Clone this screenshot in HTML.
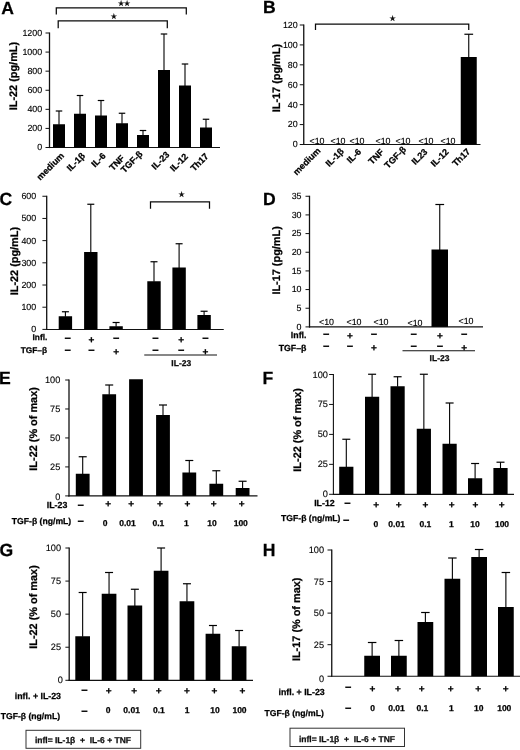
<!DOCTYPE html>
<html lang="en"><head><meta charset="utf-8"><title>Figure</title>
<style>
html,body{margin:0;padding:0;background:#fff;}
body{width:520px;height:750px;overflow:hidden;}
svg{display:block;font-family:"Liberation Sans",sans-serif;text-rendering:geometricPrecision;filter:blur(0.3px);}
</style></head><body>
<svg width="520" height="750" viewBox="0 0 520 750">
<rect width="520" height="750" fill="#fff"/>
<text x="1.20" y="14.00" font-size="17.6" text-anchor="start" font-weight="bold" stroke="#000" stroke-width="0.25" fill="#000">A</text>
<text x="17.30" y="76.10" font-size="10.9" text-anchor="middle" font-weight="bold" stroke="#000" stroke-width="0.25" fill="#000" transform="rotate(-90 17.30 76.10)">IL-22 (pg/mL)</text>
<line x1="49.50" y1="32.50" x2="49.50" y2="148.10" stroke="#111" stroke-width="1.3"/>
<line x1="45.50" y1="147.50" x2="49.50" y2="147.50" stroke="#111" stroke-width="1.0"/>
<text x="42.20" y="150.40" font-size="8.9" text-anchor="end" stroke="#000" stroke-width="0.12" fill="#000">0</text>
<line x1="45.50" y1="128.42" x2="49.50" y2="128.42" stroke="#111" stroke-width="1.0"/>
<text x="42.20" y="131.32" font-size="8.9" text-anchor="end" stroke="#000" stroke-width="0.12" fill="#000">200</text>
<line x1="45.50" y1="109.33" x2="49.50" y2="109.33" stroke="#111" stroke-width="1.0"/>
<text x="42.20" y="112.24" font-size="8.9" text-anchor="end" stroke="#000" stroke-width="0.12" fill="#000">400</text>
<line x1="45.50" y1="90.25" x2="49.50" y2="90.25" stroke="#111" stroke-width="1.0"/>
<text x="42.20" y="93.15" font-size="8.9" text-anchor="end" stroke="#000" stroke-width="0.12" fill="#000">600</text>
<line x1="45.50" y1="71.17" x2="49.50" y2="71.17" stroke="#111" stroke-width="1.0"/>
<text x="42.20" y="74.07" font-size="8.9" text-anchor="end" stroke="#000" stroke-width="0.12" fill="#000">800</text>
<line x1="45.50" y1="52.08" x2="49.50" y2="52.08" stroke="#111" stroke-width="1.0"/>
<text x="42.20" y="54.99" font-size="8.9" text-anchor="end" stroke="#000" stroke-width="0.12" fill="#000">1000</text>
<line x1="45.50" y1="33.00" x2="49.50" y2="33.00" stroke="#111" stroke-width="1.0"/>
<text x="42.20" y="35.90" font-size="8.9" text-anchor="end" stroke="#000" stroke-width="0.12" fill="#000">1200</text>
<line x1="49.00" y1="147.50" x2="220.00" y2="147.50" stroke="#111" stroke-width="1.2"/>
<rect x="53.00" y="124.25" width="12.00" height="23.25" fill="#000"/>
<line x1="59.00" y1="111.00" x2="59.00" y2="124.75" stroke="#000" stroke-width="1.1"/>
<line x1="55.75" y1="111.00" x2="62.25" y2="111.00" stroke="#000" stroke-width="1.2"/>
<text x="52.50" y="168.49" font-size="9" text-anchor="middle" font-weight="bold" stroke="#000" stroke-width="0.25" fill="#000" transform="rotate(-45 52.50 168.49)">medium</text>
<rect x="74.00" y="113.75" width="12.00" height="33.75" fill="#000"/>
<line x1="80.00" y1="95.50" x2="80.00" y2="114.25" stroke="#000" stroke-width="1.1"/>
<line x1="76.75" y1="95.50" x2="83.25" y2="95.50" stroke="#000" stroke-width="1.2"/>
<text x="78.00" y="164.09" font-size="9" text-anchor="middle" font-weight="bold" stroke="#000" stroke-width="0.25" fill="#000" transform="rotate(-45 78.00 164.09)">IL-1β</text>
<rect x="95.00" y="115.50" width="12.00" height="32.00" fill="#000"/>
<line x1="101.00" y1="100.50" x2="101.00" y2="116.00" stroke="#000" stroke-width="1.1"/>
<line x1="97.75" y1="100.50" x2="104.25" y2="100.50" stroke="#000" stroke-width="1.2"/>
<text x="100.59" y="162.19" font-size="9" text-anchor="middle" font-weight="bold" stroke="#000" stroke-width="0.25" fill="#000" transform="rotate(-45 100.59 162.19)">IL-6</text>
<rect x="116.00" y="123.25" width="12.00" height="24.25" fill="#000"/>
<line x1="122.00" y1="113.25" x2="122.00" y2="123.75" stroke="#000" stroke-width="1.1"/>
<line x1="118.75" y1="113.25" x2="125.25" y2="113.25" stroke="#000" stroke-width="1.2"/>
<text x="119.09" y="164.99" font-size="9" text-anchor="middle" font-weight="bold" stroke="#000" stroke-width="0.25" fill="#000" transform="rotate(-45 119.09 164.99)">TNF</text>
<rect x="137.00" y="135.00" width="12.00" height="12.50" fill="#000"/>
<line x1="143.00" y1="130.50" x2="143.00" y2="135.50" stroke="#000" stroke-width="1.1"/>
<line x1="139.75" y1="130.50" x2="146.25" y2="130.50" stroke="#000" stroke-width="1.2"/>
<text x="133.79" y="164.09" font-size="9" text-anchor="middle" font-weight="bold" stroke="#000" stroke-width="0.25" fill="#000" transform="rotate(-45 133.79 164.09)">TGF-β</text>
<rect x="158.00" y="70.00" width="12.00" height="77.50" fill="#000"/>
<line x1="164.00" y1="34.00" x2="164.00" y2="70.50" stroke="#000" stroke-width="1.1"/>
<line x1="160.75" y1="34.00" x2="167.25" y2="34.00" stroke="#000" stroke-width="1.2"/>
<text x="162.69" y="162.69" font-size="9" text-anchor="middle" font-weight="bold" stroke="#000" stroke-width="0.25" fill="#000" transform="rotate(-45 162.69 162.69)">IL-23</text>
<rect x="179.00" y="85.50" width="12.00" height="62.00" fill="#000"/>
<line x1="185.00" y1="64.00" x2="185.00" y2="86.00" stroke="#000" stroke-width="1.1"/>
<line x1="181.75" y1="64.00" x2="188.25" y2="64.00" stroke="#000" stroke-width="1.2"/>
<text x="181.09" y="164.59" font-size="9" text-anchor="middle" font-weight="bold" stroke="#000" stroke-width="0.25" fill="#000" transform="rotate(-45 181.09 164.59)">IL-12</text>
<rect x="200.00" y="127.50" width="12.00" height="20.00" fill="#000"/>
<line x1="206.00" y1="119.25" x2="206.00" y2="128.00" stroke="#000" stroke-width="1.1"/>
<line x1="202.75" y1="119.25" x2="209.25" y2="119.25" stroke="#000" stroke-width="1.2"/>
<text x="201.59" y="164.39" font-size="9" text-anchor="middle" font-weight="bold" stroke="#000" stroke-width="0.25" fill="#000" transform="rotate(-45 201.59 164.39)">Th17</text>
<polyline points="56.30,14.40 56.30,7.90 186.30,7.90 186.30,14.40" fill="none" stroke="#0a0a0a" stroke-width="1.25"/>
<polyline points="58.20,28.20 58.20,20.90 167.30,20.90 167.30,28.20" fill="none" stroke="#0a0a0a" stroke-width="1.25"/>
<text x="121.00" y="6.38" font-size="8" text-anchor="middle" stroke="#000" stroke-width="0.12" font-family="'DejaVu Sans', sans-serif" fill="#111">★</text>
<text x="127.00" y="6.38" font-size="8" text-anchor="middle" stroke="#000" stroke-width="0.12" font-family="'DejaVu Sans', sans-serif" fill="#111">★</text>
<text x="113.75" y="18.88" font-size="8" text-anchor="middle" stroke="#000" stroke-width="0.12" font-family="'DejaVu Sans', sans-serif" fill="#111">★</text>
<text x="263.00" y="12.70" font-size="17.6" text-anchor="start" font-weight="bold" stroke="#000" stroke-width="0.25" fill="#000">B</text>
<text x="280.00" y="78.10" font-size="10.9" text-anchor="middle" font-weight="bold" stroke="#000" stroke-width="0.25" fill="#000" transform="rotate(-90 280.00 78.10)">IL-17 (pg/mL)</text>
<line x1="303.75" y1="24.50" x2="303.75" y2="145.10" stroke="#111" stroke-width="1.3"/>
<line x1="299.75" y1="144.50" x2="303.75" y2="144.50" stroke="#111" stroke-width="1.0"/>
<text x="297.70" y="147.40" font-size="8.9" text-anchor="end" stroke="#000" stroke-width="0.12" fill="#000">0</text>
<line x1="299.75" y1="124.58" x2="303.75" y2="124.58" stroke="#111" stroke-width="1.0"/>
<text x="297.70" y="127.49" font-size="8.9" text-anchor="end" stroke="#000" stroke-width="0.12" fill="#000">20</text>
<line x1="299.75" y1="104.67" x2="303.75" y2="104.67" stroke="#111" stroke-width="1.0"/>
<text x="297.70" y="107.57" font-size="8.9" text-anchor="end" stroke="#000" stroke-width="0.12" fill="#000">40</text>
<line x1="299.75" y1="84.75" x2="303.75" y2="84.75" stroke="#111" stroke-width="1.0"/>
<text x="297.70" y="87.65" font-size="8.9" text-anchor="end" stroke="#000" stroke-width="0.12" fill="#000">60</text>
<line x1="299.75" y1="64.83" x2="303.75" y2="64.83" stroke="#111" stroke-width="1.0"/>
<text x="297.70" y="67.74" font-size="8.9" text-anchor="end" stroke="#000" stroke-width="0.12" fill="#000">80</text>
<line x1="299.75" y1="44.92" x2="303.75" y2="44.92" stroke="#111" stroke-width="1.0"/>
<text x="297.70" y="47.82" font-size="8.9" text-anchor="end" stroke="#000" stroke-width="0.12" fill="#000">100</text>
<line x1="299.75" y1="25.00" x2="303.75" y2="25.00" stroke="#111" stroke-width="1.0"/>
<text x="297.70" y="27.90" font-size="8.9" text-anchor="end" stroke="#000" stroke-width="0.12" fill="#000">120</text>
<line x1="303.25" y1="144.50" x2="480.50" y2="144.50" stroke="#111" stroke-width="1.2"/>
<rect x="460.75" y="57.00" width="16.00" height="87.50" fill="#000"/>
<line x1="468.75" y1="34.25" x2="468.75" y2="57.50" stroke="#000" stroke-width="1.1"/>
<line x1="464.38" y1="34.25" x2="473.12" y2="34.25" stroke="#000" stroke-width="1.2"/>
<text x="317.00" y="143.70" font-size="8.9" text-anchor="middle" stroke="#000" stroke-width="0.12" fill="#000">&lt;10</text>
<text x="338.00" y="143.70" font-size="8.9" text-anchor="middle" stroke="#000" stroke-width="0.12" fill="#000">&lt;10</text>
<text x="357.00" y="143.70" font-size="8.9" text-anchor="middle" stroke="#000" stroke-width="0.12" fill="#000">&lt;10</text>
<text x="383.00" y="143.70" font-size="8.9" text-anchor="middle" stroke="#000" stroke-width="0.12" fill="#000">&lt;10</text>
<text x="403.00" y="143.70" font-size="8.9" text-anchor="middle" stroke="#000" stroke-width="0.12" fill="#000">&lt;10</text>
<text x="426.00" y="143.70" font-size="8.9" text-anchor="middle" stroke="#000" stroke-width="0.12" fill="#000">&lt;10</text>
<text x="448.00" y="143.70" font-size="8.9" text-anchor="middle" stroke="#000" stroke-width="0.12" fill="#000">&lt;10</text>
<text x="308.90" y="163.49" font-size="9" text-anchor="middle" font-weight="bold" stroke="#000" stroke-width="0.25" fill="#000" transform="rotate(-45 308.90 163.49)">medium</text>
<text x="336.80" y="159.59" font-size="9" text-anchor="middle" font-weight="bold" stroke="#000" stroke-width="0.25" fill="#000" transform="rotate(-45 336.80 159.59)">IL-1β</text>
<text x="356.19" y="157.99" font-size="9" text-anchor="middle" font-weight="bold" stroke="#000" stroke-width="0.25" fill="#000" transform="rotate(-45 356.19 157.99)">IL-6</text>
<text x="378.19" y="158.89" font-size="9" text-anchor="middle" font-weight="bold" stroke="#000" stroke-width="0.25" fill="#000" transform="rotate(-45 378.19 158.89)">TNF</text>
<text x="397.40" y="159.59" font-size="9" text-anchor="middle" font-weight="bold" stroke="#000" stroke-width="0.25" fill="#000" transform="rotate(-45 397.40 159.59)">TGF-β</text>
<text x="421.69" y="158.89" font-size="9" text-anchor="middle" font-weight="bold" stroke="#000" stroke-width="0.25" fill="#000" transform="rotate(-45 421.69 158.89)">IL23</text>
<text x="441.90" y="159.89" font-size="9" text-anchor="middle" font-weight="bold" stroke="#000" stroke-width="0.25" fill="#000" transform="rotate(-45 441.90 159.89)">IL-12</text>
<text x="463.40" y="159.59" font-size="9" text-anchor="middle" font-weight="bold" stroke="#000" stroke-width="0.25" fill="#000" transform="rotate(-45 463.40 159.59)">Th17</text>
<polyline points="315.50,30.00 315.50,24.00 468.75,24.00 468.75,30.00" fill="none" stroke="#0a0a0a" stroke-width="1.25"/>
<text x="392.50" y="21.38" font-size="8" text-anchor="middle" stroke="#000" stroke-width="0.12" font-family="'DejaVu Sans', sans-serif" fill="#111">★</text>
<text x="-0.50" y="204.50" font-size="17.6" text-anchor="start" font-weight="bold" stroke="#000" stroke-width="0.25" fill="#000">C</text>
<text x="17.70" y="261.10" font-size="10.9" text-anchor="middle" font-weight="bold" stroke="#000" stroke-width="0.25" fill="#000" transform="rotate(-90 17.70 261.10)">IL-22 (pg/mL)</text>
<line x1="46.70" y1="195.75" x2="46.70" y2="330.00" stroke="#111" stroke-width="1.3"/>
<line x1="42.40" y1="329.40" x2="46.70" y2="329.40" stroke="#111" stroke-width="1.0"/>
<text x="36.20" y="332.30" font-size="8.9" text-anchor="end" stroke="#000" stroke-width="0.12" fill="#000">0</text>
<line x1="42.40" y1="307.21" x2="46.70" y2="307.21" stroke="#111" stroke-width="1.0"/>
<text x="36.20" y="310.11" font-size="8.9" text-anchor="end" stroke="#000" stroke-width="0.12" fill="#000">100</text>
<line x1="42.40" y1="285.02" x2="46.70" y2="285.02" stroke="#111" stroke-width="1.0"/>
<text x="36.20" y="287.92" font-size="8.9" text-anchor="end" stroke="#000" stroke-width="0.12" fill="#000">200</text>
<line x1="42.40" y1="262.82" x2="46.70" y2="262.82" stroke="#111" stroke-width="1.0"/>
<text x="36.20" y="265.73" font-size="8.9" text-anchor="end" stroke="#000" stroke-width="0.12" fill="#000">300</text>
<line x1="42.40" y1="240.63" x2="46.70" y2="240.63" stroke="#111" stroke-width="1.0"/>
<text x="36.20" y="243.54" font-size="8.9" text-anchor="end" stroke="#000" stroke-width="0.12" fill="#000">400</text>
<line x1="42.40" y1="218.44" x2="46.70" y2="218.44" stroke="#111" stroke-width="1.0"/>
<text x="36.20" y="221.35" font-size="8.9" text-anchor="end" stroke="#000" stroke-width="0.12" fill="#000">500</text>
<line x1="42.40" y1="196.25" x2="46.70" y2="196.25" stroke="#111" stroke-width="1.0"/>
<text x="36.20" y="199.15" font-size="8.9" text-anchor="end" stroke="#000" stroke-width="0.12" fill="#000">600</text>
<line x1="46.50" y1="329.50" x2="223.75" y2="329.50" stroke="#111" stroke-width="1.2"/>
<rect x="58.70" y="316.25" width="13.40" height="13.15" fill="#000"/>
<line x1="65.40" y1="311.75" x2="65.40" y2="316.75" stroke="#000" stroke-width="1.1"/>
<line x1="61.90" y1="311.75" x2="68.90" y2="311.75" stroke="#000" stroke-width="1.2"/>
<rect x="84.10" y="252.00" width="13.40" height="77.40" fill="#000"/>
<line x1="90.80" y1="204.25" x2="90.80" y2="252.50" stroke="#000" stroke-width="1.1"/>
<line x1="87.30" y1="204.25" x2="94.30" y2="204.25" stroke="#000" stroke-width="1.2"/>
<rect x="109.40" y="326.25" width="13.40" height="3.15" fill="#000"/>
<line x1="116.10" y1="322.50" x2="116.10" y2="326.75" stroke="#000" stroke-width="1.1"/>
<line x1="112.60" y1="322.50" x2="119.60" y2="322.50" stroke="#000" stroke-width="1.2"/>
<rect x="147.30" y="281.25" width="13.40" height="48.15" fill="#000"/>
<line x1="154.00" y1="261.75" x2="154.00" y2="281.75" stroke="#000" stroke-width="1.1"/>
<line x1="150.50" y1="261.75" x2="157.50" y2="261.75" stroke="#000" stroke-width="1.2"/>
<rect x="172.40" y="267.50" width="13.40" height="61.90" fill="#000"/>
<line x1="179.10" y1="243.75" x2="179.10" y2="268.00" stroke="#000" stroke-width="1.1"/>
<line x1="175.60" y1="243.75" x2="182.60" y2="243.75" stroke="#000" stroke-width="1.2"/>
<rect x="197.40" y="315.00" width="13.40" height="14.40" fill="#000"/>
<line x1="204.10" y1="311.25" x2="204.10" y2="315.50" stroke="#000" stroke-width="1.1"/>
<line x1="200.60" y1="311.25" x2="207.60" y2="311.25" stroke="#000" stroke-width="1.2"/>
<text x="47.30" y="340.00" font-size="8.3" text-anchor="end" font-weight="bold" stroke="#000" stroke-width="0.25" fill="#000">Infl.</text>
<text x="47.00" y="353.00" font-size="8.3" text-anchor="end" font-weight="bold" stroke="#000" stroke-width="0.25" fill="#000">TGF–β</text>
<text x="67.70" y="342.00" font-size="11" text-anchor="middle" font-weight="bold" stroke="#000" stroke-width="0.25" fill="#000">−</text>
<text x="67.70" y="354.00" font-size="11" text-anchor="middle" font-weight="bold" stroke="#000" stroke-width="0.25" fill="#000">−</text>
<text x="91.50" y="343.00" font-size="10" text-anchor="middle" font-weight="bold" stroke="#000" stroke-width="0.25" fill="#000">+</text>
<text x="91.50" y="354.00" font-size="11" text-anchor="middle" font-weight="bold" stroke="#000" stroke-width="0.25" fill="#000">−</text>
<text x="116.20" y="342.00" font-size="11" text-anchor="middle" font-weight="bold" stroke="#000" stroke-width="0.25" fill="#000">−</text>
<text x="116.20" y="355.00" font-size="10" text-anchor="middle" font-weight="bold" stroke="#000" stroke-width="0.25" fill="#000">+</text>
<text x="155.50" y="342.00" font-size="11" text-anchor="middle" font-weight="bold" stroke="#000" stroke-width="0.25" fill="#000">−</text>
<text x="155.50" y="354.00" font-size="11" text-anchor="middle" font-weight="bold" stroke="#000" stroke-width="0.25" fill="#000">−</text>
<text x="181.25" y="343.00" font-size="10" text-anchor="middle" font-weight="bold" stroke="#000" stroke-width="0.25" fill="#000">+</text>
<text x="181.25" y="354.00" font-size="11" text-anchor="middle" font-weight="bold" stroke="#000" stroke-width="0.25" fill="#000">−</text>
<text x="205.50" y="342.00" font-size="11" text-anchor="middle" font-weight="bold" stroke="#000" stroke-width="0.25" fill="#000">−</text>
<text x="205.50" y="355.00" font-size="10" text-anchor="middle" font-weight="bold" stroke="#000" stroke-width="0.25" fill="#000">+</text>
<line x1="144.25" y1="355.00" x2="217.00" y2="355.00" stroke="#111" stroke-width="1.2"/>
<text x="181.25" y="365.50" font-size="8.5" text-anchor="middle" font-weight="bold" stroke="#000" stroke-width="0.25" fill="#111">IL-23</text>
<polyline points="150.50,208.75 150.50,201.75 209.50,201.75 209.50,208.75" fill="none" stroke="#0a0a0a" stroke-width="1.25"/>
<text x="181.50" y="197.38" font-size="8" text-anchor="middle" stroke="#000" stroke-width="0.12" font-family="'DejaVu Sans', sans-serif" fill="#111">★</text>
<text x="262.90" y="204.50" font-size="17.6" text-anchor="start" font-weight="bold" stroke="#000" stroke-width="0.25" fill="#000">D</text>
<text x="280.00" y="260.40" font-size="10.9" text-anchor="middle" font-weight="bold" stroke="#000" stroke-width="0.25" fill="#000" transform="rotate(-90 280.00 260.40)">IL-17 (pg/mL)</text>
<line x1="309.50" y1="195.75" x2="309.50" y2="327.50" stroke="#111" stroke-width="1.3"/>
<line x1="305.50" y1="326.90" x2="309.50" y2="326.90" stroke="#111" stroke-width="1.0"/>
<text x="301.50" y="329.80" font-size="8.9" text-anchor="end" stroke="#000" stroke-width="0.12" fill="#000">0</text>
<line x1="305.50" y1="308.24" x2="309.50" y2="308.24" stroke="#111" stroke-width="1.0"/>
<text x="301.50" y="311.14" font-size="8.9" text-anchor="end" stroke="#000" stroke-width="0.12" fill="#000">5</text>
<line x1="305.50" y1="289.57" x2="309.50" y2="289.57" stroke="#111" stroke-width="1.0"/>
<text x="301.50" y="292.48" font-size="8.9" text-anchor="end" stroke="#000" stroke-width="0.12" fill="#000">10</text>
<line x1="305.50" y1="270.91" x2="309.50" y2="270.91" stroke="#111" stroke-width="1.0"/>
<text x="301.50" y="273.81" font-size="8.9" text-anchor="end" stroke="#000" stroke-width="0.12" fill="#000">15</text>
<line x1="305.50" y1="252.24" x2="309.50" y2="252.24" stroke="#111" stroke-width="1.0"/>
<text x="301.50" y="255.15" font-size="8.9" text-anchor="end" stroke="#000" stroke-width="0.12" fill="#000">20</text>
<line x1="305.50" y1="233.58" x2="309.50" y2="233.58" stroke="#111" stroke-width="1.0"/>
<text x="301.50" y="236.48" font-size="8.9" text-anchor="end" stroke="#000" stroke-width="0.12" fill="#000">25</text>
<line x1="305.50" y1="214.91" x2="309.50" y2="214.91" stroke="#111" stroke-width="1.0"/>
<text x="301.50" y="217.82" font-size="8.9" text-anchor="end" stroke="#000" stroke-width="0.12" fill="#000">30</text>
<line x1="305.50" y1="196.25" x2="309.50" y2="196.25" stroke="#111" stroke-width="1.0"/>
<text x="301.50" y="199.15" font-size="8.9" text-anchor="end" stroke="#000" stroke-width="0.12" fill="#000">35</text>
<line x1="309.00" y1="326.90" x2="483.00" y2="326.90" stroke="#111" stroke-width="1.2"/>
<rect x="431.50" y="249.50" width="16.50" height="77.40" fill="#000"/>
<line x1="439.75" y1="204.50" x2="439.75" y2="250.00" stroke="#000" stroke-width="1.1"/>
<line x1="435.38" y1="204.50" x2="444.12" y2="204.50" stroke="#000" stroke-width="1.2"/>
<text x="326.50" y="324.90" font-size="8.9" text-anchor="middle" stroke="#000" stroke-width="0.12" fill="#000">&lt;10</text>
<text x="354.00" y="324.90" font-size="8.9" text-anchor="middle" stroke="#000" stroke-width="0.12" fill="#000">&lt;10</text>
<text x="381.00" y="324.90" font-size="8.9" text-anchor="middle" stroke="#000" stroke-width="0.12" fill="#000">&lt;10</text>
<text x="415.00" y="325.60" font-size="8.9" text-anchor="middle" stroke="#000" stroke-width="0.12" fill="#000">&lt;10</text>
<text x="466.00" y="323.90" font-size="8.9" text-anchor="middle" stroke="#000" stroke-width="0.12" fill="#000">&lt;10</text>
<text x="306.50" y="338.00" font-size="8.8" text-anchor="end" font-weight="bold" stroke="#000" stroke-width="0.25" fill="#000">Infl.</text>
<text x="306.50" y="351.00" font-size="8.8" text-anchor="end" font-weight="bold" stroke="#000" stroke-width="0.25" fill="#000">TGF–β</text>
<text x="326.25" y="338.00" font-size="11" text-anchor="middle" font-weight="bold" stroke="#000" stroke-width="0.25" fill="#000">−</text>
<text x="326.25" y="350.00" font-size="11" text-anchor="middle" font-weight="bold" stroke="#000" stroke-width="0.25" fill="#000">−</text>
<text x="350.00" y="339.00" font-size="10" text-anchor="middle" font-weight="bold" stroke="#000" stroke-width="0.25" fill="#000">+</text>
<text x="350.00" y="350.00" font-size="11" text-anchor="middle" font-weight="bold" stroke="#000" stroke-width="0.25" fill="#000">−</text>
<text x="374.00" y="338.00" font-size="11" text-anchor="middle" font-weight="bold" stroke="#000" stroke-width="0.25" fill="#000">−</text>
<text x="374.00" y="351.00" font-size="10" text-anchor="middle" font-weight="bold" stroke="#000" stroke-width="0.25" fill="#000">+</text>
<text x="413.75" y="338.00" font-size="11" text-anchor="middle" font-weight="bold" stroke="#000" stroke-width="0.25" fill="#000">−</text>
<text x="413.75" y="350.00" font-size="11" text-anchor="middle" font-weight="bold" stroke="#000" stroke-width="0.25" fill="#000">−</text>
<text x="440.00" y="339.00" font-size="10" text-anchor="middle" font-weight="bold" stroke="#000" stroke-width="0.25" fill="#000">+</text>
<text x="440.00" y="350.00" font-size="11" text-anchor="middle" font-weight="bold" stroke="#000" stroke-width="0.25" fill="#000">−</text>
<text x="464.25" y="338.00" font-size="11" text-anchor="middle" font-weight="bold" stroke="#000" stroke-width="0.25" fill="#000">−</text>
<text x="464.25" y="351.00" font-size="10" text-anchor="middle" font-weight="bold" stroke="#000" stroke-width="0.25" fill="#000">+</text>
<line x1="402.50" y1="350.75" x2="475.00" y2="350.75" stroke="#111" stroke-width="1.2"/>
<text x="439.50" y="361.30" font-size="8.5" text-anchor="middle" font-weight="bold" stroke="#000" stroke-width="0.25" fill="#111">IL-23</text>
<text x="-1.00" y="383.80" font-size="17.6" text-anchor="start" font-weight="bold" stroke="#000" stroke-width="0.25" fill="#000">E</text>
<text x="37.10" y="428.90" font-size="10.9" text-anchor="middle" font-weight="bold" stroke="#000" stroke-width="0.25" fill="#000" transform="rotate(-90 37.10 428.90)">IL-22 (% of max)</text>
<line x1="69.00" y1="379.50" x2="69.00" y2="496.50" stroke="#111" stroke-width="1.3"/>
<line x1="65.20" y1="495.90" x2="69.00" y2="495.90" stroke="#111" stroke-width="1.0"/>
<text x="60.30" y="500.11" font-size="9.2" text-anchor="end" stroke="#000" stroke-width="0.12" fill="#000">0</text>
<line x1="65.20" y1="466.92" x2="69.00" y2="466.92" stroke="#111" stroke-width="1.0"/>
<text x="60.30" y="469.94" font-size="9.2" text-anchor="end" stroke="#000" stroke-width="0.12" fill="#000">25</text>
<line x1="65.20" y1="437.95" x2="69.00" y2="437.95" stroke="#111" stroke-width="1.0"/>
<text x="60.30" y="440.96" font-size="9.2" text-anchor="end" stroke="#000" stroke-width="0.12" fill="#000">50</text>
<line x1="65.20" y1="408.98" x2="69.00" y2="408.98" stroke="#111" stroke-width="1.0"/>
<text x="60.30" y="411.99" font-size="9.2" text-anchor="end" stroke="#000" stroke-width="0.12" fill="#000">75</text>
<line x1="65.20" y1="380.00" x2="69.00" y2="380.00" stroke="#111" stroke-width="1.0"/>
<text x="60.30" y="383.01" font-size="9.2" text-anchor="end" stroke="#000" stroke-width="0.12" fill="#000">100</text>
<line x1="68.40" y1="495.90" x2="257.50" y2="495.90" stroke="#111" stroke-width="1.2"/>
<rect x="75.80" y="473.75" width="13.80" height="22.15" fill="#000"/>
<line x1="82.70" y1="456.75" x2="82.70" y2="474.25" stroke="#000" stroke-width="1.1"/>
<line x1="78.70" y1="456.75" x2="86.70" y2="456.75" stroke="#000" stroke-width="1.2"/>
<rect x="102.30" y="394.25" width="13.80" height="101.65" fill="#000"/>
<line x1="109.20" y1="385.00" x2="109.20" y2="394.75" stroke="#000" stroke-width="1.1"/>
<line x1="105.20" y1="385.00" x2="113.20" y2="385.00" stroke="#000" stroke-width="1.2"/>
<rect x="129.10" y="379.25" width="13.80" height="116.65" fill="#000"/>
<rect x="156.10" y="415.00" width="13.80" height="80.90" fill="#000"/>
<line x1="163.00" y1="405.00" x2="163.00" y2="415.50" stroke="#000" stroke-width="1.1"/>
<line x1="159.00" y1="405.00" x2="167.00" y2="405.00" stroke="#000" stroke-width="1.2"/>
<rect x="182.40" y="472.50" width="13.80" height="23.40" fill="#000"/>
<line x1="189.30" y1="460.50" x2="189.30" y2="473.00" stroke="#000" stroke-width="1.1"/>
<line x1="185.30" y1="460.50" x2="193.30" y2="460.50" stroke="#000" stroke-width="1.2"/>
<rect x="209.40" y="483.75" width="13.80" height="12.15" fill="#000"/>
<line x1="216.30" y1="470.75" x2="216.30" y2="484.25" stroke="#000" stroke-width="1.1"/>
<line x1="212.30" y1="470.75" x2="220.30" y2="470.75" stroke="#000" stroke-width="1.2"/>
<rect x="235.70" y="488.00" width="13.80" height="7.90" fill="#000"/>
<line x1="242.60" y1="481.25" x2="242.60" y2="488.50" stroke="#000" stroke-width="1.1"/>
<line x1="238.60" y1="481.25" x2="246.60" y2="481.25" stroke="#000" stroke-width="1.2"/>
<text x="67.30" y="508.00" font-size="8.8" text-anchor="end" font-weight="bold" stroke="#000" stroke-width="0.25" fill="#000">IL-23</text>
<text x="71.25" y="524.00" font-size="8.65" text-anchor="end" font-weight="bold" stroke="#000" stroke-width="0.25" fill="#000">TGF-β (ng/mL)</text>
<text x="80.75" y="509.00" font-size="11" text-anchor="middle" font-weight="bold" stroke="#000" stroke-width="0.25" fill="#000">−</text>
<text x="108.25" y="507.00" font-size="10" text-anchor="middle" font-weight="bold" stroke="#000" stroke-width="0.25" fill="#000">+</text>
<text x="131.25" y="507.00" font-size="10" text-anchor="middle" font-weight="bold" stroke="#000" stroke-width="0.25" fill="#000">+</text>
<text x="160.00" y="507.00" font-size="10" text-anchor="middle" font-weight="bold" stroke="#000" stroke-width="0.25" fill="#000">+</text>
<text x="187.50" y="507.00" font-size="10" text-anchor="middle" font-weight="bold" stroke="#000" stroke-width="0.25" fill="#000">+</text>
<text x="213.75" y="507.00" font-size="10" text-anchor="middle" font-weight="bold" stroke="#000" stroke-width="0.25" fill="#000">+</text>
<text x="241.75" y="507.00" font-size="10" text-anchor="middle" font-weight="bold" stroke="#000" stroke-width="0.25" fill="#000">+</text>
<text x="80.75" y="525.00" font-size="11" text-anchor="middle" font-weight="bold" stroke="#000" stroke-width="0.25" fill="#000">−</text>
<text x="105.00" y="526.00" font-size="8.5" text-anchor="middle" font-weight="bold" stroke="#000" stroke-width="0.25" fill="#000">0</text>
<text x="127.50" y="526.00" font-size="8.5" text-anchor="middle" font-weight="bold" stroke="#000" stroke-width="0.25" fill="#000">0.01</text>
<text x="158.40" y="526.00" font-size="8.5" text-anchor="middle" font-weight="bold" stroke="#000" stroke-width="0.25" fill="#000">0.1</text>
<text x="186.25" y="526.00" font-size="8.5" text-anchor="middle" font-weight="bold" stroke="#000" stroke-width="0.25" fill="#000">1</text>
<text x="212.00" y="526.00" font-size="8.5" text-anchor="middle" font-weight="bold" stroke="#000" stroke-width="0.25" fill="#000">10</text>
<text x="240.75" y="526.00" font-size="8.5" text-anchor="middle" font-weight="bold" stroke="#000" stroke-width="0.25" fill="#000">100</text>
<text x="262.50" y="383.80" font-size="17.6" text-anchor="start" font-weight="bold" stroke="#000" stroke-width="0.25" fill="#000">F</text>
<text x="301.00" y="429.90" font-size="10.9" text-anchor="middle" font-weight="bold" stroke="#000" stroke-width="0.25" fill="#000" transform="rotate(-90 301.00 429.90)">IL-22 (% of max)</text>
<line x1="333.40" y1="374.00" x2="333.40" y2="494.90" stroke="#111" stroke-width="1.1"/>
<line x1="329.10" y1="494.30" x2="333.40" y2="494.30" stroke="#111" stroke-width="1.0"/>
<text x="327.90" y="497.31" font-size="9.2" text-anchor="end" stroke="#000" stroke-width="0.12" fill="#000">0</text>
<line x1="329.10" y1="464.35" x2="333.40" y2="464.35" stroke="#111" stroke-width="1.0"/>
<text x="327.90" y="467.36" font-size="9.2" text-anchor="end" stroke="#000" stroke-width="0.12" fill="#000">25</text>
<line x1="329.10" y1="434.40" x2="333.40" y2="434.40" stroke="#111" stroke-width="1.0"/>
<text x="327.90" y="437.41" font-size="9.2" text-anchor="end" stroke="#000" stroke-width="0.12" fill="#000">50</text>
<line x1="329.10" y1="404.45" x2="333.40" y2="404.45" stroke="#111" stroke-width="1.0"/>
<text x="327.90" y="407.46" font-size="9.2" text-anchor="end" stroke="#000" stroke-width="0.12" fill="#000">75</text>
<line x1="329.10" y1="374.50" x2="333.40" y2="374.50" stroke="#111" stroke-width="1.0"/>
<text x="327.90" y="377.51" font-size="9.2" text-anchor="end" stroke="#000" stroke-width="0.12" fill="#000">100</text>
<line x1="332.90" y1="494.30" x2="514.00" y2="494.30" stroke="#111" stroke-width="1.2"/>
<rect x="339.20" y="466.75" width="14.20" height="27.50" fill="#000"/>
<line x1="346.30" y1="439.25" x2="346.30" y2="467.25" stroke="#000" stroke-width="1.1"/>
<line x1="342.30" y1="439.25" x2="350.30" y2="439.25" stroke="#000" stroke-width="1.2"/>
<rect x="365.00" y="396.75" width="14.20" height="97.50" fill="#000"/>
<line x1="372.10" y1="374.25" x2="372.10" y2="397.25" stroke="#000" stroke-width="1.1"/>
<line x1="368.10" y1="374.25" x2="376.10" y2="374.25" stroke="#000" stroke-width="1.2"/>
<rect x="390.50" y="386.25" width="14.20" height="108.00" fill="#000"/>
<line x1="397.60" y1="376.75" x2="397.60" y2="386.75" stroke="#000" stroke-width="1.1"/>
<line x1="393.60" y1="376.75" x2="401.60" y2="376.75" stroke="#000" stroke-width="1.2"/>
<rect x="416.75" y="428.75" width="14.20" height="65.50" fill="#000"/>
<line x1="423.85" y1="374.25" x2="423.85" y2="429.25" stroke="#000" stroke-width="1.1"/>
<line x1="419.85" y1="374.25" x2="427.85" y2="374.25" stroke="#000" stroke-width="1.2"/>
<rect x="442.50" y="443.75" width="14.20" height="50.50" fill="#000"/>
<line x1="449.60" y1="403.00" x2="449.60" y2="444.25" stroke="#000" stroke-width="1.1"/>
<line x1="445.60" y1="403.00" x2="453.60" y2="403.00" stroke="#000" stroke-width="1.2"/>
<rect x="468.00" y="478.25" width="14.20" height="16.00" fill="#000"/>
<line x1="475.10" y1="463.50" x2="475.10" y2="478.75" stroke="#000" stroke-width="1.1"/>
<line x1="471.10" y1="463.50" x2="479.10" y2="463.50" stroke="#000" stroke-width="1.2"/>
<rect x="493.40" y="468.00" width="14.20" height="26.25" fill="#000"/>
<line x1="500.50" y1="462.20" x2="500.50" y2="468.50" stroke="#000" stroke-width="1.1"/>
<line x1="496.50" y1="462.20" x2="504.50" y2="462.20" stroke="#000" stroke-width="1.2"/>
<text x="334.70" y="506.00" font-size="8.8" text-anchor="end" font-weight="bold" stroke="#000" stroke-width="0.25" fill="#000">IL-12</text>
<text x="340.50" y="521.00" font-size="8.65" text-anchor="end" font-weight="bold" stroke="#000" stroke-width="0.25" fill="#000">TGF-β (ng/mL)</text>
<text x="347.50" y="507.00" font-size="11" text-anchor="middle" font-weight="bold" stroke="#000" stroke-width="0.25" fill="#000">−</text>
<text x="376.25" y="508.00" font-size="10" text-anchor="middle" font-weight="bold" stroke="#000" stroke-width="0.25" fill="#000">+</text>
<text x="398.75" y="508.00" font-size="10" text-anchor="middle" font-weight="bold" stroke="#000" stroke-width="0.25" fill="#000">+</text>
<text x="425.50" y="508.00" font-size="10" text-anchor="middle" font-weight="bold" stroke="#000" stroke-width="0.25" fill="#000">+</text>
<text x="451.75" y="508.00" font-size="10" text-anchor="middle" font-weight="bold" stroke="#000" stroke-width="0.25" fill="#000">+</text>
<text x="475.50" y="508.00" font-size="10" text-anchor="middle" font-weight="bold" stroke="#000" stroke-width="0.25" fill="#000">+</text>
<text x="501.75" y="508.00" font-size="10" text-anchor="middle" font-weight="bold" stroke="#000" stroke-width="0.25" fill="#000">+</text>
<text x="346.25" y="524.00" font-size="11" text-anchor="middle" font-weight="bold" stroke="#000" stroke-width="0.25" fill="#000">−</text>
<text x="375.75" y="527.00" font-size="8.5" text-anchor="middle" font-weight="bold" stroke="#000" stroke-width="0.25" fill="#000">0</text>
<text x="396.60" y="527.00" font-size="8.5" text-anchor="middle" font-weight="bold" stroke="#000" stroke-width="0.25" fill="#000">0.01</text>
<text x="425.40" y="527.00" font-size="8.5" text-anchor="middle" font-weight="bold" stroke="#000" stroke-width="0.25" fill="#000">0.1</text>
<text x="451.25" y="527.00" font-size="8.5" text-anchor="middle" font-weight="bold" stroke="#000" stroke-width="0.25" fill="#000">1</text>
<text x="475.00" y="527.00" font-size="8.5" text-anchor="middle" font-weight="bold" stroke="#000" stroke-width="0.25" fill="#000">10</text>
<text x="502.00" y="527.00" font-size="8.5" text-anchor="middle" font-weight="bold" stroke="#000" stroke-width="0.25" fill="#000">100</text>
<text x="-0.40" y="556.00" font-size="17.6" text-anchor="start" font-weight="bold" stroke="#000" stroke-width="0.25" fill="#000">G</text>
<text x="37.10" y="607.00" font-size="10.9" text-anchor="middle" font-weight="bold" stroke="#000" stroke-width="0.25" fill="#000" transform="rotate(-90 37.10 607.00)">IL-22 (% of max)</text>
<line x1="69.20" y1="547.50" x2="69.20" y2="680.90" stroke="#111" stroke-width="1.3"/>
<line x1="65.40" y1="680.30" x2="69.20" y2="680.30" stroke="#111" stroke-width="1.0"/>
<text x="62.80" y="682.81" font-size="9.2" text-anchor="end" stroke="#000" stroke-width="0.12" fill="#000">0</text>
<line x1="65.40" y1="647.22" x2="69.20" y2="647.22" stroke="#111" stroke-width="1.0"/>
<text x="61.00" y="650.24" font-size="9.2" text-anchor="end" stroke="#000" stroke-width="0.12" fill="#000">25</text>
<line x1="65.40" y1="614.15" x2="69.20" y2="614.15" stroke="#111" stroke-width="1.0"/>
<text x="61.00" y="617.16" font-size="9.2" text-anchor="end" stroke="#000" stroke-width="0.12" fill="#000">50</text>
<line x1="65.40" y1="581.08" x2="69.20" y2="581.08" stroke="#111" stroke-width="1.0"/>
<text x="61.00" y="584.09" font-size="9.2" text-anchor="end" stroke="#000" stroke-width="0.12" fill="#000">75</text>
<line x1="65.40" y1="548.00" x2="69.20" y2="548.00" stroke="#111" stroke-width="1.0"/>
<text x="61.00" y="551.01" font-size="9.2" text-anchor="end" stroke="#000" stroke-width="0.12" fill="#000">100</text>
<line x1="68.60" y1="680.30" x2="253.00" y2="680.30" stroke="#111" stroke-width="1.2"/>
<rect x="75.30" y="636.25" width="14.70" height="44.05" fill="#000"/>
<line x1="82.65" y1="592.50" x2="82.65" y2="636.75" stroke="#000" stroke-width="1.1"/>
<line x1="78.65" y1="592.50" x2="86.65" y2="592.50" stroke="#000" stroke-width="1.2"/>
<rect x="101.70" y="593.75" width="14.70" height="86.55" fill="#000"/>
<line x1="109.05" y1="572.50" x2="109.05" y2="594.25" stroke="#000" stroke-width="1.1"/>
<line x1="105.05" y1="572.50" x2="113.05" y2="572.50" stroke="#000" stroke-width="1.2"/>
<rect x="127.50" y="605.50" width="14.70" height="74.80" fill="#000"/>
<line x1="134.85" y1="589.25" x2="134.85" y2="606.00" stroke="#000" stroke-width="1.1"/>
<line x1="130.85" y1="589.25" x2="138.85" y2="589.25" stroke="#000" stroke-width="1.2"/>
<rect x="153.75" y="570.75" width="14.70" height="109.55" fill="#000"/>
<line x1="161.10" y1="548.00" x2="161.10" y2="571.25" stroke="#000" stroke-width="1.1"/>
<line x1="157.10" y1="548.00" x2="165.10" y2="548.00" stroke="#000" stroke-width="1.2"/>
<rect x="179.60" y="601.25" width="14.70" height="79.05" fill="#000"/>
<line x1="186.95" y1="583.75" x2="186.95" y2="601.75" stroke="#000" stroke-width="1.1"/>
<line x1="182.95" y1="583.75" x2="190.95" y2="583.75" stroke="#000" stroke-width="1.2"/>
<rect x="205.60" y="633.75" width="14.70" height="46.55" fill="#000"/>
<line x1="212.95" y1="625.50" x2="212.95" y2="634.25" stroke="#000" stroke-width="1.1"/>
<line x1="208.95" y1="625.50" x2="216.95" y2="625.50" stroke="#000" stroke-width="1.2"/>
<rect x="231.75" y="646.25" width="14.70" height="34.05" fill="#000"/>
<line x1="239.10" y1="630.50" x2="239.10" y2="646.75" stroke="#000" stroke-width="1.1"/>
<line x1="235.10" y1="630.50" x2="243.10" y2="630.50" stroke="#000" stroke-width="1.2"/>
<text x="61.00" y="699.00" font-size="8.8" text-anchor="end" font-weight="bold" stroke="#000" stroke-width="0.25" fill="#000">infl. + IL-23</text>
<text x="60.00" y="719.00" font-size="8.6" text-anchor="end" font-weight="bold" stroke="#000" stroke-width="0.25" fill="#000">TGF-β (ng/mL)</text>
<text x="84.50" y="694.00" font-size="11" text-anchor="middle" font-weight="bold" stroke="#000" stroke-width="0.25" fill="#000">−</text>
<text x="108.75" y="694.00" font-size="10" text-anchor="middle" font-weight="bold" stroke="#000" stroke-width="0.25" fill="#000">+</text>
<text x="134.25" y="694.00" font-size="10" text-anchor="middle" font-weight="bold" stroke="#000" stroke-width="0.25" fill="#000">+</text>
<text x="158.75" y="694.00" font-size="10" text-anchor="middle" font-weight="bold" stroke="#000" stroke-width="0.25" fill="#000">+</text>
<text x="187.00" y="694.00" font-size="10" text-anchor="middle" font-weight="bold" stroke="#000" stroke-width="0.25" fill="#000">+</text>
<text x="214.50" y="694.00" font-size="10" text-anchor="middle" font-weight="bold" stroke="#000" stroke-width="0.25" fill="#000">+</text>
<text x="242.50" y="694.00" font-size="10" text-anchor="middle" font-weight="bold" stroke="#000" stroke-width="0.25" fill="#000">+</text>
<text x="84.50" y="715.00" font-size="11" text-anchor="middle" font-weight="bold" stroke="#000" stroke-width="0.25" fill="#000">−</text>
<text x="108.00" y="713.00" font-size="8.5" text-anchor="middle" font-weight="bold" stroke="#000" stroke-width="0.25" fill="#000">0</text>
<text x="131.60" y="713.00" font-size="8.5" text-anchor="middle" font-weight="bold" stroke="#000" stroke-width="0.25" fill="#000">0.01</text>
<text x="158.90" y="713.00" font-size="8.5" text-anchor="middle" font-weight="bold" stroke="#000" stroke-width="0.25" fill="#000">0.1</text>
<text x="187.00" y="713.00" font-size="8.5" text-anchor="middle" font-weight="bold" stroke="#000" stroke-width="0.25" fill="#000">1</text>
<text x="215.00" y="713.00" font-size="8.5" text-anchor="middle" font-weight="bold" stroke="#000" stroke-width="0.25" fill="#000">10</text>
<text x="239.50" y="713.00" font-size="8.5" text-anchor="middle" font-weight="bold" stroke="#000" stroke-width="0.25" fill="#000">100</text>
<rect x="26" y="730.3" width="114.7" height="18" fill="#fff" stroke="#333" stroke-width="1"/>
<text x="83.00" y="742.80" font-size="8.5" text-anchor="middle" font-weight="bold" stroke="#000" stroke-width="0.25" fill="#111">infl= IL-1β&#160; +&#160; IL-6 + TNF</text>
<text x="262.70" y="556.00" font-size="17.6" text-anchor="start" font-weight="bold" stroke="#000" stroke-width="0.25" fill="#000">H</text>
<text x="299.80" y="619.30" font-size="10.9" text-anchor="middle" font-weight="bold" stroke="#000" stroke-width="0.25" fill="#000" transform="rotate(-90 299.80 619.30)">IL-17 (% of max)</text>
<line x1="331.75" y1="549.50" x2="331.75" y2="676.85" stroke="#111" stroke-width="1.3"/>
<line x1="327.50" y1="676.25" x2="331.75" y2="676.25" stroke="#111" stroke-width="1.0"/>
<text x="324.00" y="681.76" font-size="9.2" text-anchor="end" stroke="#000" stroke-width="0.12" fill="#000">0</text>
<line x1="327.50" y1="644.69" x2="331.75" y2="644.69" stroke="#111" stroke-width="1.0"/>
<text x="324.00" y="647.70" font-size="9.2" text-anchor="end" stroke="#000" stroke-width="0.12" fill="#000">25</text>
<line x1="327.50" y1="613.12" x2="331.75" y2="613.12" stroke="#111" stroke-width="1.0"/>
<text x="324.00" y="616.14" font-size="9.2" text-anchor="end" stroke="#000" stroke-width="0.12" fill="#000">50</text>
<line x1="327.50" y1="581.56" x2="331.75" y2="581.56" stroke="#111" stroke-width="1.0"/>
<text x="324.00" y="584.57" font-size="9.2" text-anchor="end" stroke="#000" stroke-width="0.12" fill="#000">75</text>
<line x1="327.50" y1="550.00" x2="331.75" y2="550.00" stroke="#111" stroke-width="1.0"/>
<text x="324.00" y="553.01" font-size="9.2" text-anchor="end" stroke="#000" stroke-width="0.12" fill="#000">100</text>
<line x1="331.25" y1="676.25" x2="520.00" y2="676.25" stroke="#111" stroke-width="1.2"/>
<rect x="364.25" y="655.75" width="15.75" height="20.50" fill="#000"/>
<line x1="372.12" y1="642.50" x2="372.12" y2="656.25" stroke="#000" stroke-width="1.1"/>
<line x1="367.88" y1="642.50" x2="376.38" y2="642.50" stroke="#000" stroke-width="1.2"/>
<rect x="391.00" y="655.75" width="15.75" height="20.50" fill="#000"/>
<line x1="398.88" y1="640.50" x2="398.88" y2="656.25" stroke="#000" stroke-width="1.1"/>
<line x1="394.62" y1="640.50" x2="403.12" y2="640.50" stroke="#000" stroke-width="1.2"/>
<rect x="417.50" y="622.00" width="15.75" height="54.25" fill="#000"/>
<line x1="425.38" y1="612.50" x2="425.38" y2="622.50" stroke="#000" stroke-width="1.1"/>
<line x1="421.12" y1="612.50" x2="429.62" y2="612.50" stroke="#000" stroke-width="1.2"/>
<rect x="444.50" y="578.75" width="15.75" height="97.50" fill="#000"/>
<line x1="452.38" y1="558.00" x2="452.38" y2="579.25" stroke="#000" stroke-width="1.1"/>
<line x1="448.12" y1="558.00" x2="456.62" y2="558.00" stroke="#000" stroke-width="1.2"/>
<rect x="471.25" y="557.00" width="15.75" height="119.25" fill="#000"/>
<line x1="479.12" y1="549.50" x2="479.12" y2="557.50" stroke="#000" stroke-width="1.1"/>
<line x1="474.88" y1="549.50" x2="483.38" y2="549.50" stroke="#000" stroke-width="1.2"/>
<rect x="498.00" y="607.00" width="15.75" height="69.25" fill="#000"/>
<line x1="505.88" y1="572.50" x2="505.88" y2="607.50" stroke="#000" stroke-width="1.1"/>
<line x1="501.62" y1="572.50" x2="510.12" y2="572.50" stroke="#000" stroke-width="1.2"/>
<text x="324.70" y="695.00" font-size="8.8" text-anchor="end" font-weight="bold" stroke="#000" stroke-width="0.25" fill="#000">infl. + IL-23</text>
<text x="323.75" y="716.00" font-size="8.6" text-anchor="end" font-weight="bold" stroke="#000" stroke-width="0.25" fill="#000">TGF-β (ng/mL)</text>
<text x="348.25" y="691.00" font-size="11" text-anchor="middle" font-weight="bold" stroke="#000" stroke-width="0.25" fill="#000">−</text>
<text x="372.50" y="692.00" font-size="10" text-anchor="middle" font-weight="bold" stroke="#000" stroke-width="0.25" fill="#000">+</text>
<text x="398.00" y="692.00" font-size="10" text-anchor="middle" font-weight="bold" stroke="#000" stroke-width="0.25" fill="#000">+</text>
<text x="421.75" y="692.00" font-size="10" text-anchor="middle" font-weight="bold" stroke="#000" stroke-width="0.25" fill="#000">+</text>
<text x="450.75" y="692.00" font-size="10" text-anchor="middle" font-weight="bold" stroke="#000" stroke-width="0.25" fill="#000">+</text>
<text x="478.25" y="692.00" font-size="10" text-anchor="middle" font-weight="bold" stroke="#000" stroke-width="0.25" fill="#000">+</text>
<text x="505.75" y="692.00" font-size="10" text-anchor="middle" font-weight="bold" stroke="#000" stroke-width="0.25" fill="#000">+</text>
<text x="348.25" y="712.00" font-size="11" text-anchor="middle" font-weight="bold" stroke="#000" stroke-width="0.25" fill="#000">−</text>
<text x="372.50" y="711.00" font-size="8.5" text-anchor="middle" font-weight="bold" stroke="#000" stroke-width="0.25" fill="#000">0</text>
<text x="396.50" y="711.00" font-size="8.5" text-anchor="middle" font-weight="bold" stroke="#000" stroke-width="0.25" fill="#000">0.01</text>
<text x="422.40" y="711.00" font-size="8.5" text-anchor="middle" font-weight="bold" stroke="#000" stroke-width="0.25" fill="#000">0.1</text>
<text x="451.25" y="711.00" font-size="8.5" text-anchor="middle" font-weight="bold" stroke="#000" stroke-width="0.25" fill="#000">1</text>
<text x="478.75" y="711.00" font-size="8.5" text-anchor="middle" font-weight="bold" stroke="#000" stroke-width="0.25" fill="#000">10</text>
<text x="504.25" y="711.00" font-size="8.5" text-anchor="middle" font-weight="bold" stroke="#000" stroke-width="0.25" fill="#000">100</text>
<rect x="290" y="728.2" width="114.5" height="18.3" fill="#fff" stroke="#333" stroke-width="1"/>
<text x="347.00" y="741.50" font-size="8.5" text-anchor="middle" font-weight="bold" stroke="#000" stroke-width="0.25" fill="#111">infl= IL-1β&#160; +&#160; IL-6 + TNF</text>
</svg>
</body></html>
